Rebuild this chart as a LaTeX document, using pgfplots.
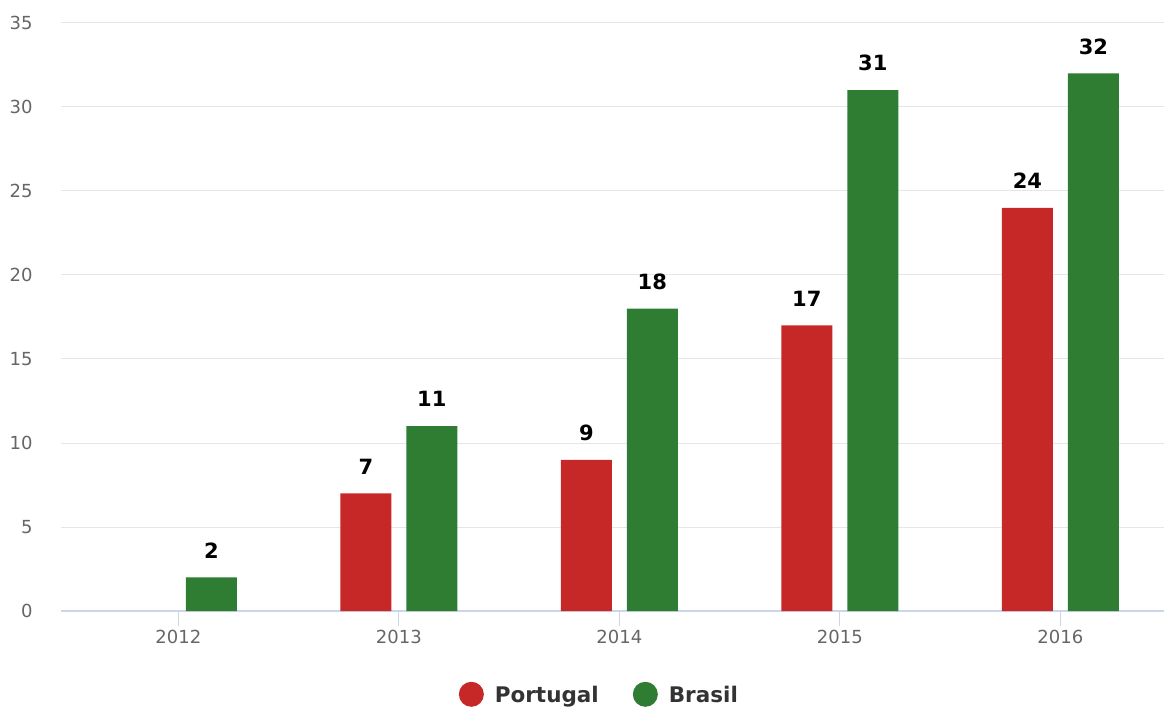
\documentclass[border=0pt]{standalone}
\usepackage{fontspec}
\setmainfont{DejaVu Sans}
\usepackage{pgfplots}
\pgfplotsset{compat=1.18}
\definecolor{ptred}{HTML}{C62828}
\definecolor{brgreen}{HTML}{2E7D32}
\definecolor{gridgray}{HTML}{E6E6E6}
\definecolor{axisblue}{HTML}{CCD6EB}
\definecolor{ticktext}{HTML}{666666}
\definecolor{legtext}{HTML}{333333}

\begin{document}
\begin{tikzpicture}
\useasboundingbox (0,0) rectangle (582.5pt,353pt);
\begin{axis}[
  at={(30.5pt,47.5pt)}, anchor=south west,
  scale only axis, width=551.5pt, height=294pt,
  ybar=7.5pt, bar width=25.5pt,
  xmin=-0.532, xmax=4.47, ymin=0, ymax=35,
  xtick={0,1,2,3,4},
  xticklabels={2012,2013,2014,2015,2016},
  ytick={0,5,...,35},
  axis x line*=bottom, axis y line*=left,
  x axis line style={draw=axisblue, line width=0.6pt},
  y axis line style={draw=none},
  xtick align=outside,
  major tick length=7.5pt,
  xtick style={draw=axisblue, line width=0.6pt},
  ytick style={draw=none},
  ymajorgrids,
  grid style={draw=gridgray, line width=0.5pt},
  /pgf/number format/assume math mode=true,
  tick label style={font=\fontsize{9}{11}\selectfont, text=ticktext},
  yticklabel style={anchor=east, inner sep=0pt, xshift=-14pt},
  xticklabel style={anchor=north, inner sep=0pt, yshift=-2pt},
  nodes near coords,
  every node near coord/.append style={font=\bfseries\fontsize{10.5}{12}\selectfont, text=black, anchor=center, yshift=13.5pt},
  legend style={at={(axis description cs:0.489,-0.144)}, anchor=center,
    draw=none, fill=none, legend columns=2,
    font=\bfseries\fontsize{10.75}{13}\selectfont, text=legtext,
    /tikz/every even column/.append style={column sep=15pt}},
  legend image code/.code={%
    \fill[#1] (0pt,0.8pt) circle (6.25pt);
    \path (9.75pt,0pt);},
]
% Portugal has no value for 2012
\addplot[fill=ptred, draw=none] coordinates {(1,7) (2,9) (3,17) (4,24)};
\addplot[fill=brgreen, draw=none] coordinates {(0,2) (1,11) (2,18) (3,31) (4,32)};
\legend{Portugal, Brasil}
\end{axis}
\end{tikzpicture}
\end{document}
